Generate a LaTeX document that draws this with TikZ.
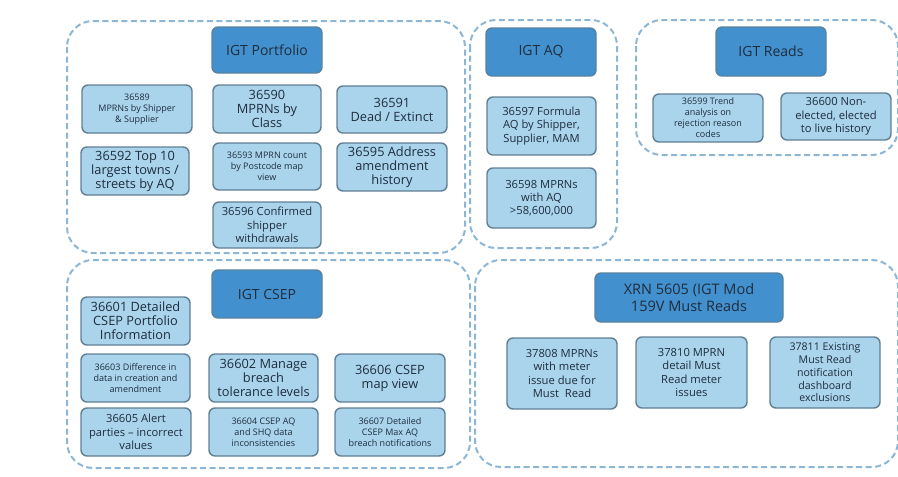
\documentclass[tikz,border=0pt]{standalone}
\usepackage{fontspec}
\setmainfont{Open Sans}
\definecolor{hdrfill}{HTML}{4290CE}
\definecolor{hdrdraw}{HTML}{56839F}
\definecolor{boxfill}{HTML}{A9D4EC}
\definecolor{boxdraw}{HTML}{617F93}
\definecolor{grpdraw}{HTML}{8CB6D6}
\definecolor{txt}{HTML}{1F2D3D}
\tikzset{
  grp/.style={draw=grpdraw, line width=2pt, dash pattern=on 6pt off 3.5pt, rounded corners=26pt},
  hdr/.style={draw=hdrdraw, fill=hdrfill, line width=1.4pt, rounded corners=6pt, align=center, text=txt, font=\fontsize{14}{16.5}\selectfont, inner sep=1pt},
  box/.style={draw=boxdraw, fill=boxfill, line width=1.4pt, rounded corners=6pt, align=center, text=txt, inner sep=1pt},
  sm/.style={font=\fontsize{9}{11}\selectfont},
  md/.style={font=\fontsize{11.2}{13.3}\selectfont},
  lg/.style={font=\fontsize{12.8}{14}\selectfont},
}
\begin{document}
\begin{tikzpicture}[x=1pt,y=-1pt]
\useasboundingbox (0,0) rectangle (898,477);
\clip (0,0) rectangle (898,477);
% groups
\draw[grp] (67,21) rectangle (465,253);
\draw[grp] (470,20) rectangle (617,248);
\draw[grp] (636,20) rectangle (898,155);
\draw[grp] (67,260) rectangle (470,468);
\draw[grp] (475,260) rectangle (898,467);
% IGT Portfolio
\node[hdr, minimum width=110pt, minimum height=46pt] (hp) at (267,50) {IGT Portfolio};
\node[box, sm, minimum width=110pt, minimum height=48pt] (n36589) at (137,109) {36589\\MPRNs by Shipper\\\& Supplier};
\node[box, lg, minimum width=108pt, minimum height=48pt] (n36590) at (267,109) {36590\\MPRNs by\\Class};
\node[box, lg, minimum width=110pt, minimum height=47pt] (n36591) at (392,109.5) {36591\\Dead / Extinct};
\node[box, lg, minimum width=108pt, minimum height=48pt] (n36592) at (135,171) {36592 Top 10\\largest towns /\\streets by AQ};
\node[box, sm, minimum width=108pt, minimum height=47pt] (n36593) at (267,166.5) {36593 MPRN count\\by Postcode map\\view};
\node[box, lg, minimum width=110pt, minimum height=48pt] (n36595) at (392,167) {36595 Address\\amendment\\history};
\node[box, md, minimum width=108pt, minimum height=46pt] (n36596) at (267,225) {36596 Confirmed\\shipper\\withdrawals};
% IGT AQ
\node[hdr, minimum width=110pt, minimum height=48pt] (ha) at (541,52) {IGT AQ};
\node[box, md, minimum width=109pt, minimum height=58pt] (n36597) at (541.5,126) {36597 Formula\\AQ by Shipper,\\Supplier, MAM};
\node[box, md, minimum width=109pt, minimum height=60pt] (n36598) at (541.5,198) {36598 MPRNs\\with AQ\\>58,600,000};
% IGT Reads
\node[hdr, minimum width=110pt, minimum height=49pt] (hr) at (771,51.5) {IGT Reads};
\node[box, sm, minimum width=110pt, minimum height=48pt] (n36599) at (708,118) {36599 Trend\\analysis on\\rejection reason\\codes};
\node[box, md, minimum width=110pt, minimum height=47pt] (n36600) at (836,116.5) {36600 Non-\\elected, elected\\to live history};
% IGT CSEP
\node[hdr, minimum width=110pt, minimum height=48pt] (hc) at (267,294) {IGT CSEP};
\node[box, lg, minimum width=109pt, minimum height=48pt] (n36601) at (135.5,321) {36601 Detailed\\CSEP Portfolio\\Information};
\node[box, sm, minimum width=109pt, minimum height=48pt] (n36603) at (135.5,378) {36603 Difference in\\data in creation and\\amendment};
\node[box, lg, minimum width=109pt, minimum height=48pt] (n36602) at (263.5,378) {36602 Manage\\breach\\tolerance levels};
\node[box, lg, minimum width=110pt, minimum height=48pt] (n36606) at (390,378) {36606 CSEP\\map view};
\node[box, md, minimum width=110pt, minimum height=48pt] (n36605) at (136,432) {36605 Alert\\parties – incorrect\\values};
\node[box, sm, minimum width=109pt, minimum height=48pt] (n36604) at (263.5,432) {36604 CSEP AQ\\and SHQ data\\inconsistencies};
\node[box, sm, minimum width=110pt, minimum height=48pt] (n36607) at (390,432) {36607 Detailed\\CSEP Max AQ\\breach notifications};
% XRN 5605
\node[hdr, font=\fontsize{14.5}{17}\selectfont, minimum width=188pt, minimum height=49pt] (hx) at (689,297.5) {XRN 5605 (IGT Mod\\159V Must Reads};
\node[box, md, minimum width=110pt, minimum height=71pt] (n37808) at (562,373.5) {37808 MPRNs\\with meter\\issue due for\\Must\ \ Read};
\node[box, md, minimum width=111pt, minimum height=71pt] (n37810) at (691.5,372.5) {37810 MPRN\\detail Must\\Read meter\\issues};
\node[box, font=\fontsize{10.6}{12.8}\selectfont, minimum width=110pt, minimum height=71pt] (n37811) at (825,372.5) {37811 Existing\\Must Read\\notification\\dashboard\\exclusions};
\end{tikzpicture}
\end{document}
